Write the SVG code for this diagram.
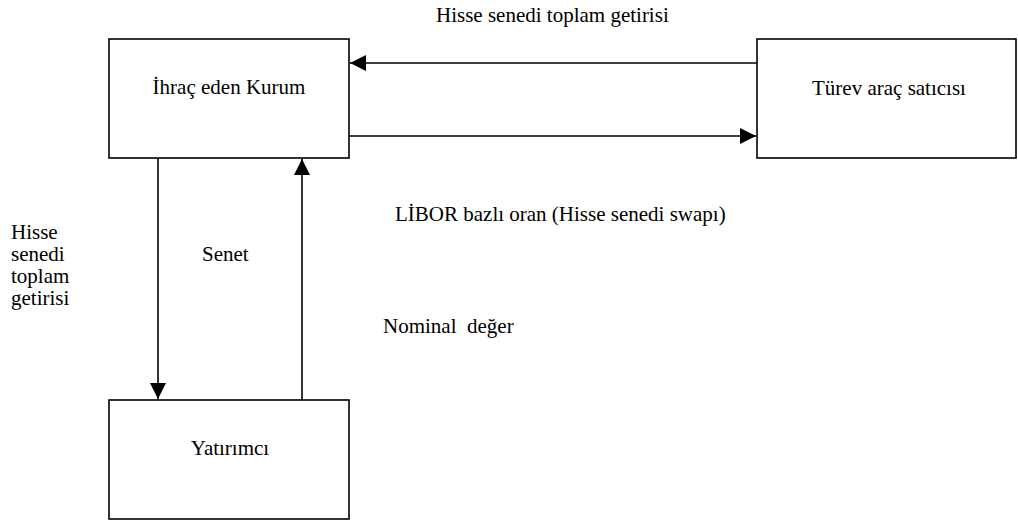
<svg xmlns="http://www.w3.org/2000/svg" width="1018" height="520" viewBox="0 0 1018 520">
  <style>
    text { font-family: 'Liberation Serif', 'Times New Roman', Times, serif; font-size: 21px; fill: #000; }
    .box { fill: #fff; stroke: #000; stroke-width: 1.6; }
    .line { stroke: #000; stroke-width: 1.6; fill: none; }
  </style>
  <defs>
    <marker id="arrow" viewBox="0 0 16 16" refX="16" refY="8" markerWidth="16" markerHeight="16" markerUnits="userSpaceOnUse" orient="auto">
      <path d="M0,0 L16,8 L0,16 Z" fill="#000"/>
    </marker>
  </defs>
  <rect width="1018" height="520" fill="#fff"/>

  <!-- flows between the three parties -->
  <g id="connectors">
    <line class="line" x1="757" y1="63" x2="350" y2="63" marker-end="url(#arrow)"/>
    <line class="line" x1="349" y1="136" x2="756" y2="136" marker-end="url(#arrow)"/>
    <line class="line" x1="158" y1="158" x2="158" y2="399" marker-end="url(#arrow)"/>
    <line class="line" x1="302" y1="400" x2="302" y2="159" marker-end="url(#arrow)"/>
  </g>

  <g id="issuer">
    <rect class="box" x="109" y="39" width="240" height="119"/>
    <text x="229" y="94" text-anchor="middle">İhraç eden Kurum</text>
  </g>
  <g id="dealer">
    <rect class="box" x="757" y="39" width="259" height="119"/>
    <text x="889" y="95" text-anchor="middle">Türev araç satıcısı</text>
  </g>
  <g id="investor">
    <rect class="box" x="109" y="400" width="240" height="119"/>
    <text x="230" y="455" text-anchor="middle">Yatırımcı</text>
  </g>

  <g id="labels">
    <text x="436" y="22">Hisse senedi toplam getirisi</text>
    <text x="395" y="221">LİBOR bazlı oran (Hisse senedi swapı)</text>
    <text x="202" y="261">Senet</text>
    <text x="383" y="333" xml:space="preserve">Nominal  değer</text>
    <text x="11" y="239">Hisse</text>
    <text x="11" y="261">senedi</text>
    <text x="11" y="283">toplam</text>
    <text x="11" y="305">getirisi</text>
  </g>
</svg>
